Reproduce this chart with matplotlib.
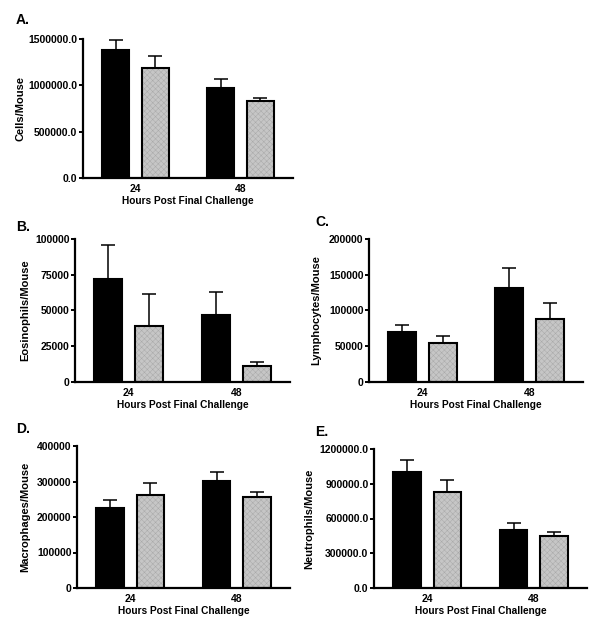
import matplotlib
matplotlib.use("Agg")
import matplotlib.pyplot as plt

plt.rcParams['font.family'] = ['Liberation Sans', 'DejaVu Sans']
plt.rcParams['font.weight'] = 'bold'
plt.rcParams['hatch.linewidth'] = 0.35

hours = ['24', '48']
xlabel = 'Hours Post Final Challenge'

# panel A - total cells
cells_black = [1382000, 972000]
cells_black_err = [107000, 101000]
cells_grey = [1191000, 836000]
cells_grey_err = [126000, 22000]

# panel B - eosinophils
eos_black = [72000, 47000]
eos_black_err = [24000, 16000]
eos_grey = [39300, 11000]
eos_grey_err = [22000, 3300]

# panel C - lymphocytes
lym_black = [70000, 132000]
lym_black_err = [10000, 27000]
lym_grey = [54500, 88300]
lym_grey_err = [10000, 21500]

# panel D - macrophages
mac_black = [225000, 302000]
mac_black_err = [24000, 24500]
mac_grey = [261000, 257500]
mac_grey_err = [36000, 13000]

# panel E - neutrophils
neu_black = [1004000, 501000]
neu_black_err = [104000, 60000]
neu_grey = [829000, 449000]
neu_grey_err = [100000, 37000]

W, H = 600, 627
fig = plt.figure(figsize=(6, 6.27), dpi=100)


def panel(box, letter, letter_xy, ylabel, ylabel_x, black, black_err, grey, grey_err,
          yticks, fmt):
    l, t, r, b = box
    ax = fig.add_axes([l / W, 1 - b / H, (r - l) / W, (b - t) / H])
    x = [0, 1]
    w = 0.26
    off = 0.19
    xb = [i - off for i in x]
    xg = [i + off for i in x]
    ax.bar(xb, black, width=w, color='black', edgecolor='black', linewidth=1.5, zorder=2)
    ax.errorbar(xb, black, yerr=[[0, 0], black_err], fmt='none', ecolor='black',
                elinewidth=1.1, capsize=5, capthick=1.1, zorder=1)
    # textured grey fill, then black outline on top
    ax.bar(xg, grey, width=w, color='#c6c6c6', edgecolor='#a9a9a9', hatch='xxxxxx',
           linewidth=0, zorder=2)
    ax.bar(xg, grey, width=w, fill=False, edgecolor='black', linewidth=1.5, zorder=3)
    ax.errorbar(xg, grey, yerr=[[0, 0], grey_err], fmt='none', ecolor='black',
                elinewidth=1.1, capsize=5, capthick=1.1, zorder=1)
    ax.set_xlim(-0.5, 1.5)
    ax.set_ylim(0, yticks[-1])
    ax.set_yticks(yticks)
    ax.set_yticklabels([fmt.format(v) for v in yticks])
    ax.set_xticks(x)
    ax.set_xticklabels(hours)
    for s in ['top', 'right']:
        ax.spines[s].set_visible(False)
    ax.spines['left'].set_linewidth(1.6)
    ax.spines['bottom'].set_linewidth(1.6)
    ax.tick_params(axis='y', length=3, width=1.4, labelsize=7.5, pad=1)
    ax.tick_params(axis='x', length=0, labelsize=7.5, pad=4)
    ax.set_xlabel(xlabel, fontsize=7.3, fontweight='bold')
    ax.xaxis.set_label_coords(0.5, -18 / (b - t))
    ax.set_ylabel(ylabel, fontsize=8, fontweight='bold')
    ax.yaxis.set_label_coords((ylabel_x - l) / (r - l), 0.5)
    ax.yaxis.label.set_va('center')
    fig.text(letter_xy[0] / W, 1 - letter_xy[1] / H, letter, fontsize=10,
             fontweight='bold', va='center', ha='left')
    return ax


panel((83, 39, 293, 178), 'A.', (16, 20), 'Cells/Mouse', 21,
      cells_black, cells_black_err, cells_grey, cells_grey_err,
      [0, 500000, 1000000, 1500000], '{:.1f}')
panel((75, 239, 290, 382), 'B.', (16, 227), 'Eosinophils/Mouse', 25,
      eos_black, eos_black_err, eos_grey, eos_grey_err,
      [0, 25000, 50000, 75000, 100000], '{:d}')
panel((369, 239, 583, 382), 'C.', (315, 222), 'Lymphocytes/Mouse', 316,
      lym_black, lym_black_err, lym_grey, lym_grey_err,
      [0, 50000, 100000, 150000, 200000], '{:d}')
panel((77, 446, 290, 588), 'D.', (16, 429), 'Macrophages/Mouse', 25,
      mac_black, mac_black_err, mac_grey, mac_grey_err,
      [0, 100000, 200000, 300000, 400000], '{:d}')
panel((374, 449, 587, 588), 'E.', (315, 432), 'Neutrophils/Mouse', 309,
      neu_black, neu_black_err, neu_grey, neu_grey_err,
      [0, 300000, 600000, 900000, 1200000], '{:.1f}')

fig.savefig('out.png', dpi=100)
